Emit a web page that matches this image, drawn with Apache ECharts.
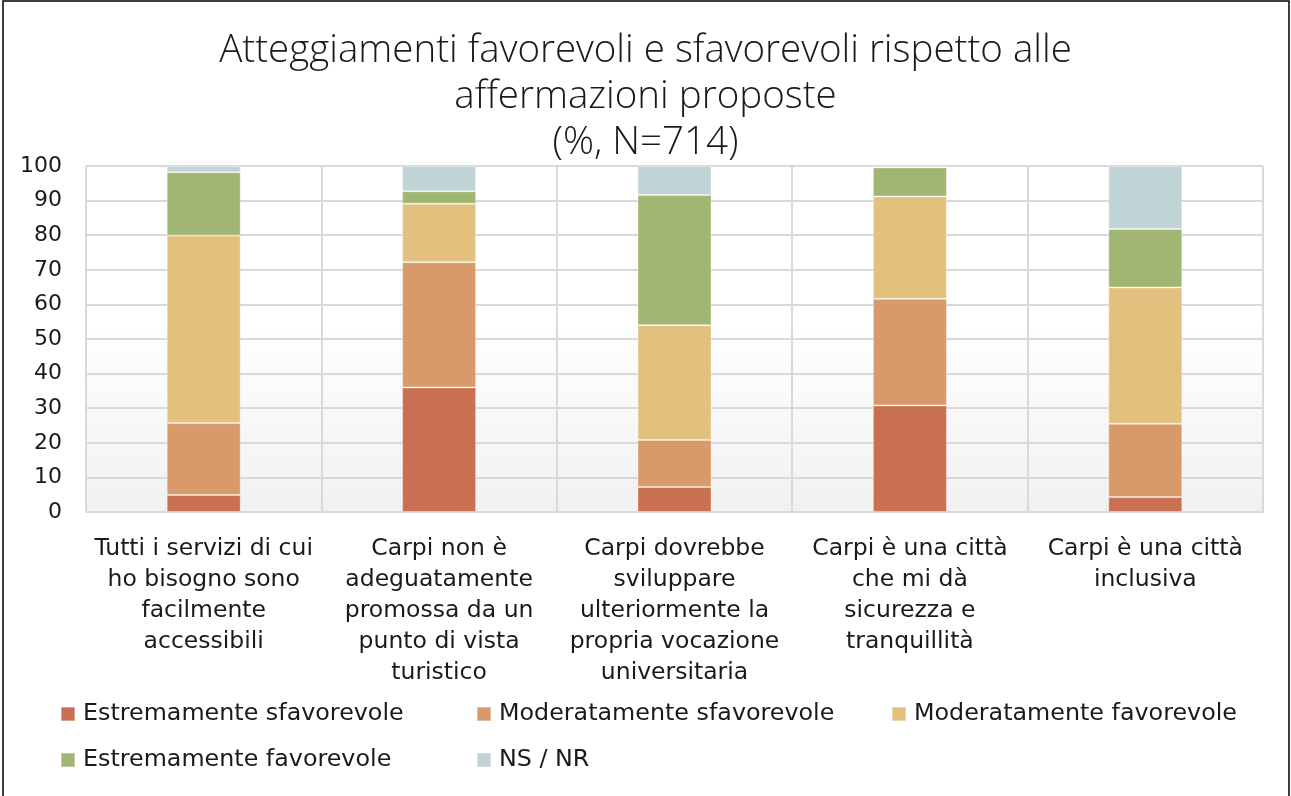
<html>
<head>
<meta charset="utf-8">
<script src="https://cdn.jsdelivr.net/npm/echarts@6/dist/echarts.min.js"></script>
<style>
  body { margin: 0; background: #fff; }
  #main { width: 1291px; height: 796px; }
</style>
</head>
<body>
<div id="main"></div>
<script>
// categories (statements) and answers in %
var categories = [
  'Tutti i servizi di cui\nho bisogno sono\nfacilmente\naccessibili',
  'Carpi non è\nadeguatamente\npromossa da un\npunto di vista\nturistico',
  'Carpi dovrebbe\nsviluppare\nulteriormente la\npropria vocazione\nuniversitaria',
  'Carpi è una città\nche mi dà\nsicurezza e\ntranquillità',
  'Carpi è una città\ninclusiva'
];
var seriesNames = ['Estremamente sfavorevole', 'Moderatamente sfavorevole', 'Moderatamente favorevole', 'Estremamente favorevole', 'NS / NR'];
var estSfav = [4.9, 36.0, 7.2, 30.8, 4.3];
var modSfav = [20.8, 36.2, 13.6, 30.8, 21.2];
var modFav = [54.2, 16.9, 33.2, 29.6, 39.4];
var estFav = [18.3, 3.6, 37.6, 8.4, 16.9];
var nsnr = [1.8, 7.3, 8.4, 0.4, 18.2];
var yTicks = [0, 100, 10];

var colors = ['#C87051', '#D8996B', '#E2C07E', '#A0B672', '#C0D4D6'];
var values = [estSfav, modSfav, modFav, estFav, nsnr];
var font = '"DejaVu Sans", sans-serif';
var titleFont = '"Open Sans", "Noto Sans", sans-serif';

var chart = echarts.init(document.getElementById('main'));

var series = seriesNames.map(function (n, i) {
  return {
    name: n,
    type: 'bar',
    stack: 'tot',
    barWidth: 74,
    data: values[i],
    itemStyle: { color: colors[i], borderColor: 'rgba(255,255,255,0.35)', borderWidth: 1 }
  };
});

// one legend per item so the columns line up like the original
var legPos = [[60, 702], [476, 702], [891, 702], [60, 748], [476, 748]];
var legends = seriesNames.map(function (n, i) {
  return {
    data: [n],
    left: legPos[i][0],
    top: legPos[i][1],
    padding: 0,
    icon: 'rect',
    itemWidth: 14,
    itemHeight: 14,
    itemGap: 0,
    selectedMode: false,
    textStyle: { fontFamily: font, fontSize: 23.8, color: '#1a1a1a', padding: [0, 0, 0, 3] }
  };
});

chart.setOption({
  animation: false,
  color: colors,
  title: {
    text: 'Atteggiamenti favorevoli e sfavorevoli rispetto alle\naffermazioni proposte\n(%, N=714)',
    left: 'center',
    top: 23,
    textStyle: { fontFamily: titleFont, fontWeight: 300, fontSize: 38.5, lineHeight: 46, color: '#1a1a1a' }
  },
  legend: legends,
  grid: {
    left: 86, right: 28, top: 166, height: 346,
    show: true,
    borderWidth: 0,
    backgroundColor: {
      type: 'linear', x: 0, y: 0, x2: 0, y2: 1,
      colorStops: [{ offset: 0, color: '#ffffff' }, { offset: 0.45, color: '#ffffff' }, { offset: 1, color: '#f1f1f1' }]
    }
  },
  xAxis: {
    type: 'category',
    data: categories,
    axisTick: { show: false },
    axisLine: { lineStyle: { color: '#d9d9d9', width: 2 } },
    splitLine: { show: true, lineStyle: { color: '#d9d9d9', width: 2 } },
    axisLabel: { interval: 0, margin: 21, fontFamily: font, fontSize: 23.5, lineHeight: 31, color: '#1a1a1a' }
  },
  yAxis: {
    type: 'value',
    min: yTicks[0], max: yTicks[1], interval: yTicks[2],
    axisLine: { show: false },
    axisTick: { show: false },
    splitLine: { lineStyle: { color: '#d9d9d9', width: 2 } },
    axisLabel: { margin: 24, fontFamily: font, fontSize: 22, color: '#1a1a1a' }
  },
  graphic: [{
    type: 'rect',
    shape: { x: 3, y: 1, width: 1286, height: 830 },
    style: { fill: 'none', stroke: '#000', lineWidth: 1.5 },
    silent: true
  }],
  series: series
});
</script>
</body>
</html>
